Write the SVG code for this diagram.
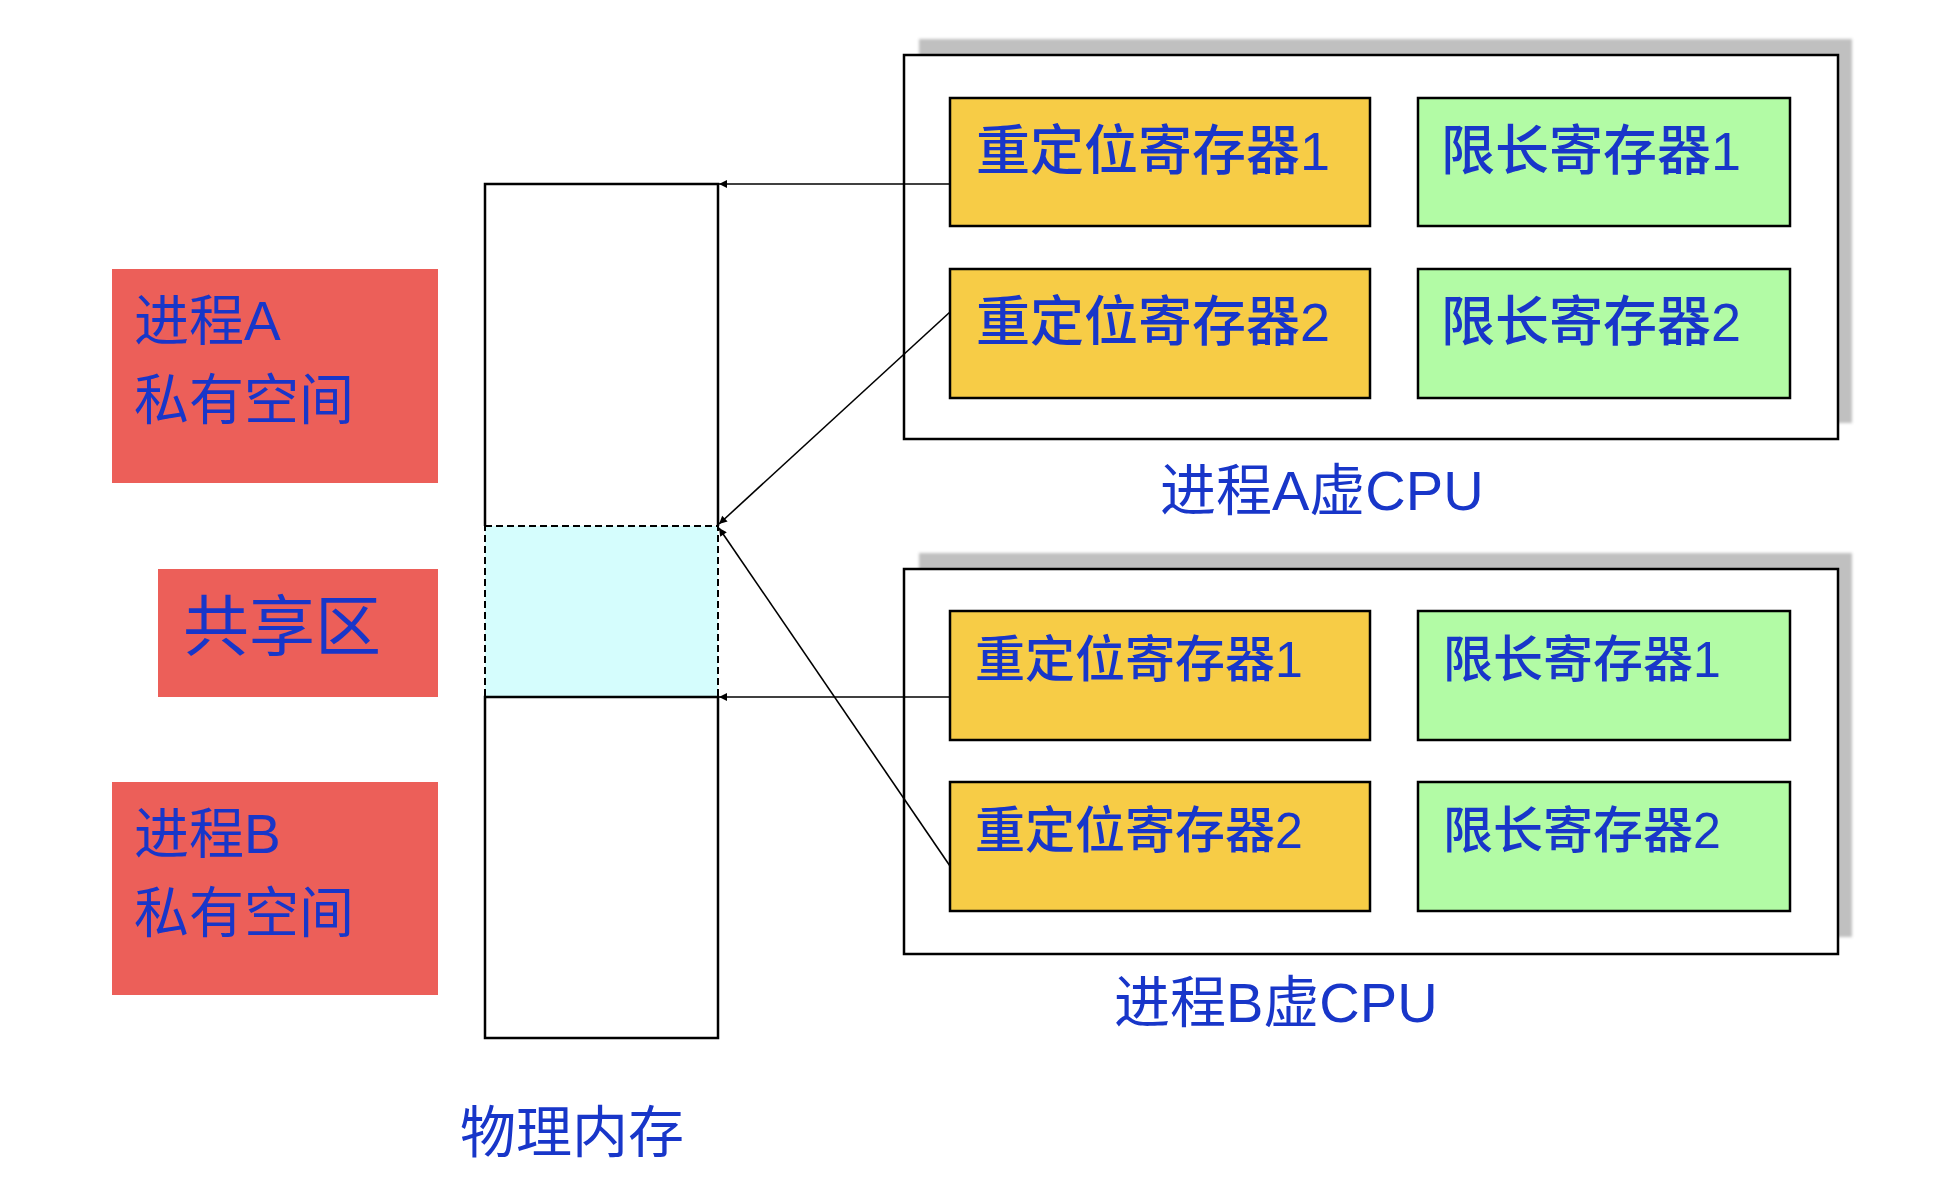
<svg xmlns="http://www.w3.org/2000/svg" width="1950" height="1186" viewBox="0 0 1950 1186">
<style>
text{font-family:"Liberation Sans","Noto Sans CJK SC",sans-serif;fill:#1836C9}
.red{fill:#EC5F59}
.org{fill:#F7CC46;stroke:#000;stroke-width:2.5}
.grn{fill:#B2FBA5;stroke:#000;stroke-width:2.5}
.outer{fill:#fff;stroke:#000;stroke-width:2.5}
.shadow{fill:#C0C0C0;filter:url(#blur)}
.mem{fill:none;stroke:#000;stroke-width:2.5}
.conn{stroke:#000;stroke-width:1.6;fill:none;marker-end:url(#ah)}
.reg{font-size:54px;font-weight:500}
.regb{font-size:50px;font-weight:500}
</style>
<defs>
<filter id="blur" x="-5%" y="-5%" width="110%" height="110%"><feGaussianBlur stdDeviation="1.5"/></filter>
<marker id="ah" viewBox="0 0 10 10" refX="10" refY="5" markerWidth="9" markerHeight="8" markerUnits="userSpaceOnUse" orient="auto"><path d="M0,0 L10,5 L0,10 z" fill="#000"/></marker>
</defs>
<rect width="1950" height="1186" fill="#fff"/>

<g id="procA-private">
<rect class="red" x="112" y="269" width="326" height="214"/>
<text x="134" y="340" font-size="55">进程A</text>
<text x="134" y="419" font-size="55">私有空间</text>
</g>
<g id="shared-label">
<rect class="red" x="158" y="569" width="280" height="128"/>
<text x="183" y="650" font-size="66">共享区</text>
</g>
<g id="procB-private">
<rect class="red" x="112" y="782" width="326" height="213"/>
<text x="134" y="853" font-size="55">进程B</text>
<text x="134" y="932" font-size="55">私有空间</text>
</g>

<g id="memory">
<path class="mem" d="M485,526 V184 H718 V526"/>
<rect x="485" y="526" width="233" height="171" fill="#D5FDFD" stroke="#000" stroke-width="2" stroke-dasharray="7,4"/>
<rect class="mem" x="485" y="697" width="233" height="341"/>
<text x="460" y="1152" font-size="56">物理内存</text>
</g>

<g id="cpuA">
<rect class="shadow" x="919" y="39" width="933" height="384"/>
<rect class="outer" x="904" y="55" width="934" height="384"/>
<g id="cpuA-reloc1"><rect class="org" x="950" y="98" width="420" height="128"/><text class="reg" x="976" y="170">重定位寄存器1</text></g>
<g id="cpuA-limit1"><rect class="grn" x="1418" y="98" width="372" height="128"/><text class="reg" x="1441" y="170">限长寄存器1</text></g>
<g id="cpuA-reloc2"><rect class="org" x="950" y="269" width="420" height="129"/><text class="reg" x="976" y="341">重定位寄存器2</text></g>
<g id="cpuA-limit2"><rect class="grn" x="1418" y="269" width="372" height="129"/><text class="reg" x="1441" y="341">限长寄存器2</text></g>
<text x="1160" y="510" font-size="56">进程A虚CPU</text>
</g>

<g id="cpuB">
<rect class="shadow" x="919" y="553" width="933" height="384"/>
<rect class="outer" x="904" y="569" width="934" height="385"/>
<g id="cpuB-reloc1"><rect class="org" x="950" y="611" width="420" height="129"/><text class="regb" x="975" y="677">重定位寄存器1</text></g>
<g id="cpuB-limit1"><rect class="grn" x="1418" y="611" width="372" height="129"/><text class="regb" x="1443" y="677">限长寄存器1</text></g>
<g id="cpuB-reloc2"><rect class="org" x="950" y="782" width="420" height="129"/><text class="regb" x="975" y="848">重定位寄存器2</text></g>
<g id="cpuB-limit2"><rect class="grn" x="1418" y="782" width="372" height="129"/><text class="regb" x="1443" y="848">限长寄存器2</text></g>
<text x="1114" y="1022" font-size="56">进程B虚CPU</text>
</g>

<g id="connectors">
<line class="conn" x1="950" y1="184" x2="719" y2="184"/>
<line class="conn" x1="950" y1="312" x2="719" y2="524"/>
<line class="conn" x1="950" y1="697" x2="719" y2="697"/>
<line class="conn" x1="950" y1="866" x2="719" y2="528"/>
</g>
</svg>
